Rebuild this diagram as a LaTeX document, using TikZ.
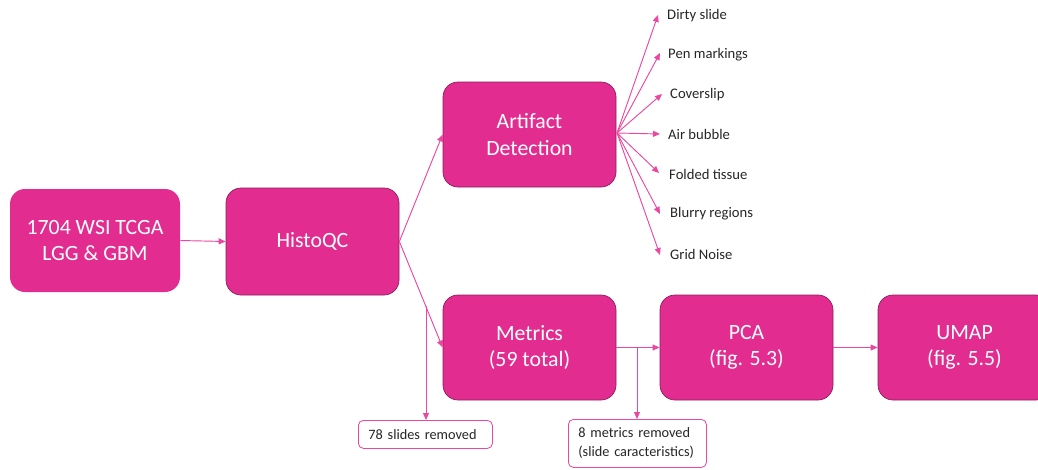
\documentclass[tikz,border=0pt]{standalone}
\usepackage{fontspec}
\setmainfont{Carlito}
\usetikzlibrary{arrows.meta}
\definecolor{boxfill}{RGB}{226,44,144}
\definecolor{boxline}{RGB}{140,32,92}
\definecolor{linkc}{RGB}{234,72,160}
\definecolor{txt}{RGB}{38,38,38}
\def\u{0.03cm}
\tikzset{
  bigbox/.style={draw=boxline, line width=0.6pt, fill=boxfill, rounded corners=15*\u,
    minimum width=173*\u, minimum height=105*\u, align=center, text=white,
    font=\fontsize{18.6}{22.5}\selectfont, inner sep=0pt},
  note/.style={draw=linkc, line width=0.7pt, fill=white, rounded corners=5*\u,
    align=left, text=txt, font=\fontsize{12.2}{16.4}\selectfont, inner xsep=10*\u, inner ysep=0pt, anchor=north west},
  lbl/.style={text=txt, font=\fontsize{12.5}{15}\selectfont, anchor=west, inner sep=0pt},
  link/.style={draw=linkc, line width=0.8pt, -{Triangle[length=7*\u, width=6*\u]}}
}
\begin{document}
\begin{tikzpicture}[x=\u, y=-\u]
\useasboundingbox (0,0) rectangle (1038,469);
\clip (0,0) rectangle (1038,469);
% main boxes
\node[bigbox, draw=none, minimum width=170*\u, minimum height=103*\u] (wsi) at (95,240.5) {1704 WSI TCGA\\LGG \& GBM};
\node[bigbox, minimum height=107*\u] (hqc) at (312.5,241.5) {HistoQC};
\node[bigbox] (art) at (529.5,134.5) {Artifact\\Detection};
\node[bigbox] (met) at (529.5,347.5) {Metrics\\(59 total)};
\node[bigbox] (pca) at (746.5,347.5) {PCA\\(fig. 5.3)};
\node[bigbox] (umap) at (964.5,347.5) {UMAP\\(fig. 5.5)};
% notes
\node[note, minimum width=134*\u, minimum height=28*\u, text width=114*\u] (rm1) at (358,420) {78 slides removed};
\node[note, minimum width=138*\u, minimum height=48*\u, text width=118*\u] (rm2) at (568,419) {8 metrics removed\\(slide caracteristics)};
% artifact labels
\node[lbl] (l1) at (667,16) {Dirty slide};
\node[lbl] (l2) at (668,55) {Pen markings};
\node[lbl] (l3) at (670,95) {Coverslip};
\node[lbl] (l4) at (668,134) {Air bubble};
\node[lbl] (l5) at (669,174) {Folded tissue};
\node[lbl] (l6) at (670,214) {Blurry regions};
\node[lbl] (l7) at (670,254) {Grid Noise};
% connectors
\draw[link] (wsi.east) -- (hqc.west);
\draw[link] (hqc.east) -- (art.west);
\draw[link] (hqc.east) -- (met.west);
\coordinate (o) at (617,133);
\draw[link] (o) -- ([xshift=-9*\u, yshift=1*\u]l1.west);
\draw[link] (o) -- ([xshift=-8*\u, yshift=2*\u]l2.west);
\draw[link] (o) -- ([xshift=-8*\u, yshift=1*\u]l3.west);
\draw[link] (o) -- ([xshift=-8*\u]l4.west);
\draw[link] (o) -- ([xshift=-10*\u, yshift=1*\u]l5.west);
\draw[link] (o) -- ([xshift=-10*\u]l6.west);
\draw[link] (o) -- ([xshift=-10*\u, yshift=-1*\u]l7.west);
\draw[link] (met.east) -- (pca.west);
\draw[link] (pca.east) -- (umap.west);
% removal branches
\coordinate (b1) at (426,306);
\draw[link] (b1) -- (b1 |- rm1.north);
\coordinate (b2) at (637,347.5);
\draw[link] (b2) -- (b2 |- rm2.north);
\end{tikzpicture}
\end{document}
